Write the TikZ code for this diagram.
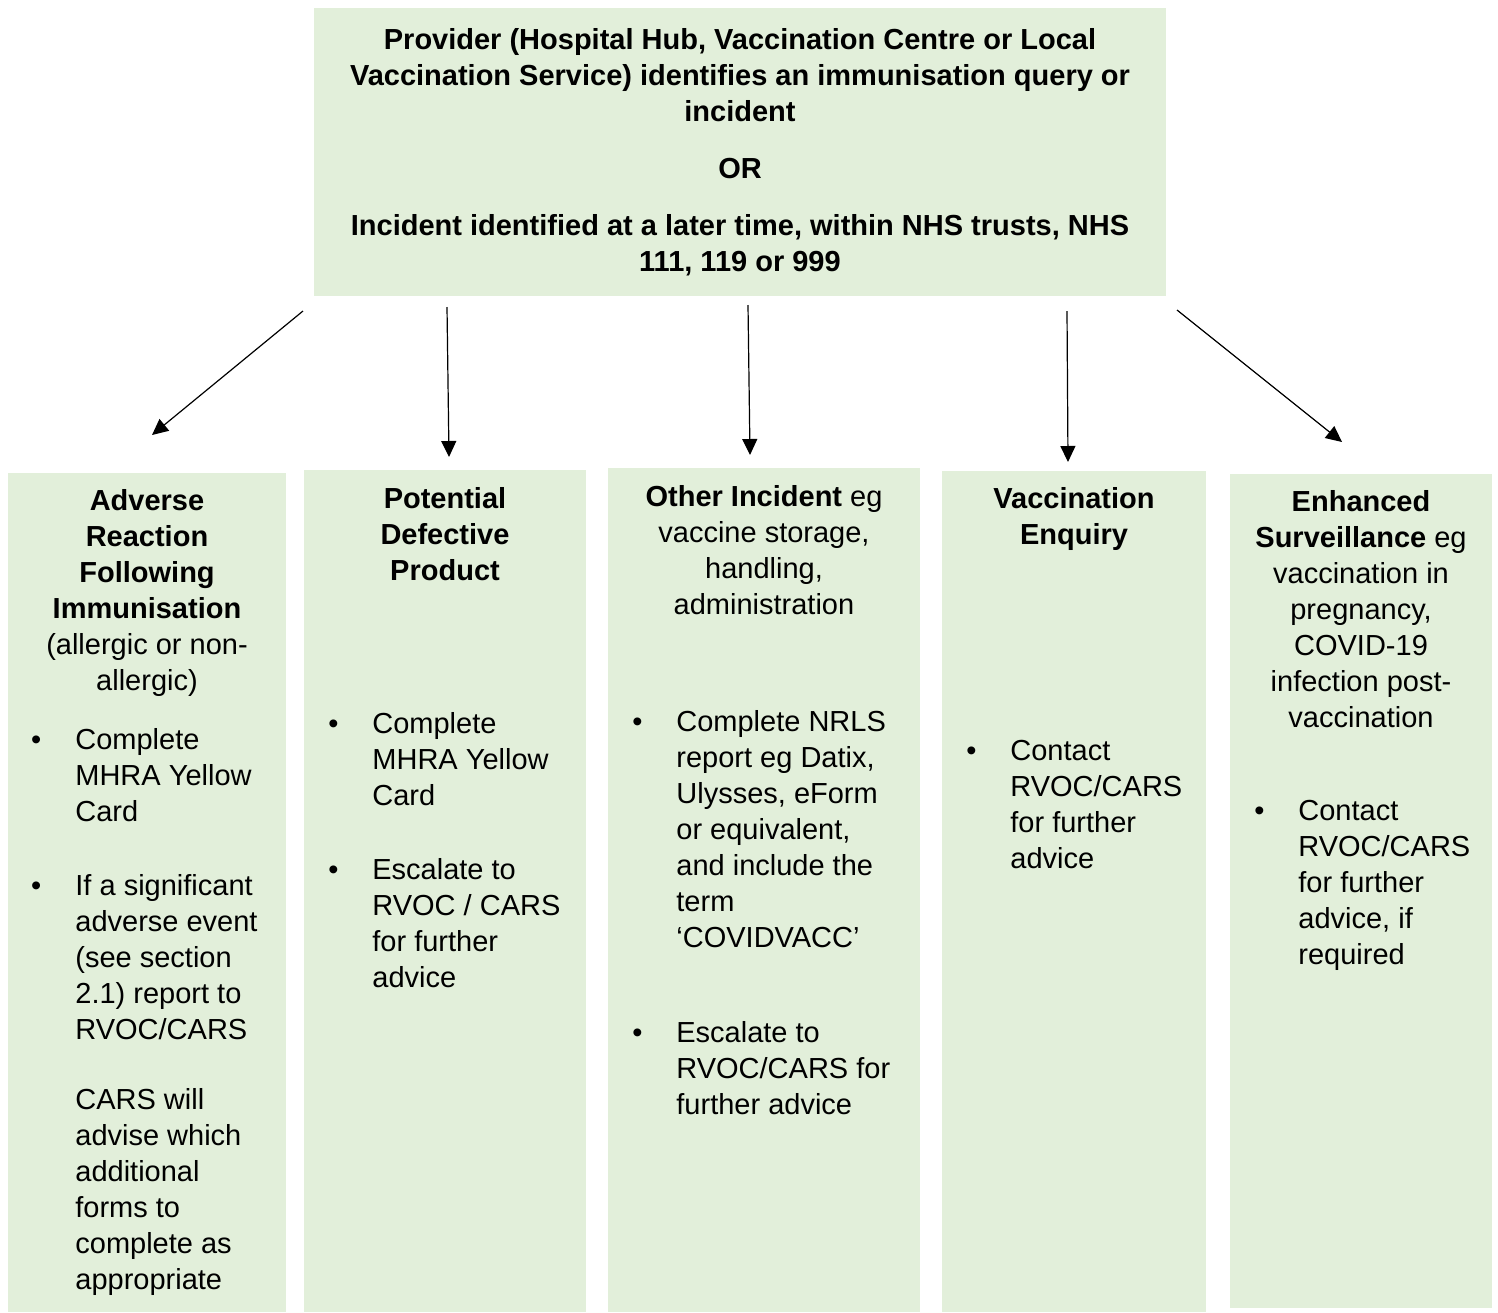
\documentclass[tikz,border=0pt]{standalone}
\usepackage{fontspec}
\setmainfont{Liberation Sans}
\usetikzlibrary{arrows.meta,fit}
\definecolor{panel}{HTML}{E2EFDA}
\newcommand{\itembullet}{\llap{\textbullet\hspace{17pt}}}

\begin{document}
\begin{tikzpicture}[x=0.5pt,y=-0.5pt,
  font=\fontsize{14.5}{18}\selectfont,
  panelbox/.style={draw=none,fill=panel,inner sep=0pt},
  head/.style={anchor=north,align=center,inner sep=0pt},
  item/.style={anchor=north west,align=left,inner sep=0pt},
  arr/.style={-{Triangle[length=8pt,width=7.5pt]},line width=0.6pt}]
  \useasboundingbox (0,0) rectangle (1498,1312);
  \node[panelbox,minimum width=426pt,minimum height=144pt,align=center,
    font=\bfseries\fontsize{14.5}{18}\selectfont] (src) at (740,152)
    {Provider (Hospital Hub, Vaccination Centre or Local\\
     Vaccination Service) identifies an immunisation query or\\
     incident\\[10.5pt]
     OR\\[10.5pt]
     Incident identified at a later time, within NHS trusts, NHS\\
     111, 119 or 999};
  \node[panelbox,fit={(8,473)(286,1312)}] (adr) {};
  \node[panelbox,fit={(304,470)(586,1312)}] (dfp) {};
  \node[panelbox,fit={(608,468)(920,1312)}] (oth) {};
  \node[panelbox,fit={(942,471)(1206,1312)}] (enq) {};
  \node[panelbox,fit={(1230,474)(1492,1308)}] (srv) {};
  \node[head] (adrhead) at (147,489) {\textbf{Adverse}\\\textbf{Reaction}\\\textbf{Following}\\\textbf{Immunisation}\\(allergic or non-\\allergic)};
  \node[item] (adrone) at (75,728) {\itembullet Complete\\MHRA Yellow\\Card};
  \node[item] (adrtwo) at (75,874) {\itembullet If a significant\\adverse event\\(see section\\2.1) report to\\RVOC/CARS};
  \node[item] (adrnote) at (75,1088) {CARS will\\advise which\\additional\\forms to\\complete as\\appropriate};
  \node[head] (dfphead) at (445,487) {\textbf{Potential}\\\textbf{Defective}\\\textbf{Product}};
  \node[item] (dfpone) at (372,712) {\itembullet Complete\\MHRA Yellow\\Card};
  \node[item] (dfptwo) at (372,858) {\itembullet Escalate to\\RVOC / CARS\\for further\\advice};
  \node[head] (othhead) at (764,485) {\textbf{Other Incident} eg\\vaccine storage,\\handling,\\administration};
  \node[item] (othone) at (676,710) {\itembullet Complete NRLS\\report eg Datix,\\Ulysses, eForm\\or equivalent,\\and include the\\term\\‘COVIDVACC’};
  \node[item] (othtwo) at (676,1021) {\itembullet Escalate to\\RVOC/CARS for\\further advice};
  \node[head] (enqhead) at (1074,487) {\textbf{Vaccination}\\\textbf{Enquiry}};
  \node[item] (enqone) at (1010,740) {\itembullet Contact\\RVOC/CARS\\for further\\advice};
  \node[head] (srvhead) at (1361,490) {\textbf{Enhanced}\\\textbf{Surveillance} eg\\vaccination in\\pregnancy,\\COVID-19\\infection post-\\vaccination};
  \node[item] (srvone) at (1298,800) {\itembullet Contact\\RVOC/CARS\\for further\\advice, if\\required};
  \coordinate (adrfrom) at (303,311);
  \coordinate (adrto) at (152,435);
  \coordinate (dfpfrom) at (447,307);
  \coordinate (dfpto) at (449,457);
  \coordinate (othfrom) at (748,305);
  \coordinate (othto) at (750,455);
  \coordinate (enqfrom) at (1067,311);
  \coordinate (enqto) at (1068,462);
  \coordinate (srvfrom) at (1177,310);
  \coordinate (srvto) at (1342,442);
  \draw[arr] (adrfrom) -- (adrto);
  \draw[arr] (dfpfrom) -- (dfpto);
  \draw[arr] (othfrom) -- (othto);
  \draw[arr] (enqfrom) -- (enqto);
  \draw[arr] (srvfrom) -- (srvto);
\end{tikzpicture}
\end{document}
